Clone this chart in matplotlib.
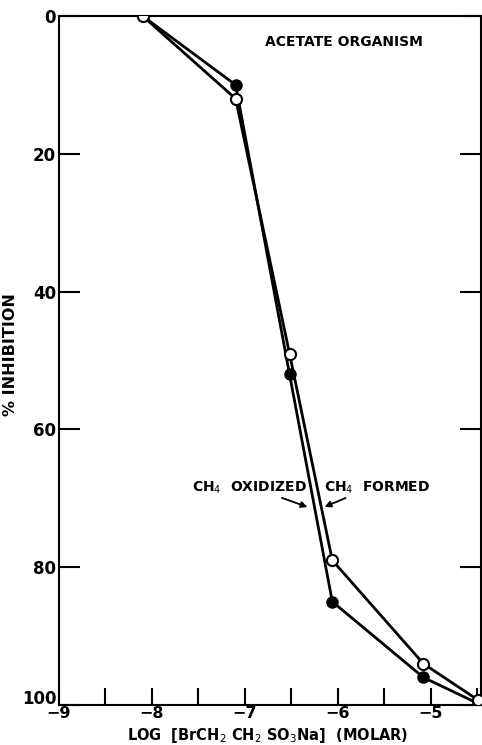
import matplotlib.pyplot as plt
import matplotlib.transforms as mtransforms
from matplotlib.ticker import MultipleLocator

# log molar concentration of BrCH2CH2SO3Na
log_conc = [-8.1, -7.1, -6.52, -6.06, -5.08, -4.49]
# percent inhibition
ch4_oxidized = [0, 10, 52, 85, 96, 99.8]
ch4_formed = [0, 12, 49, 79, 94, 99.3]

x_ticks = [-9, -8, -7, -6, -5]
y_ticks = [0, 20, 40, 60, 80, 100]


def main():
    plt.rcParams['font.family'] = ['DejaVu Sans']
    fig = plt.figure(figsize=(4.82, 7.45), dpi=100)
    ax = fig.add_axes([0.1224, 0.0537, 0.8756, 0.9248])

    ax.plot(log_conc, ch4_oxidized, color='black', lw=2.0,
            marker='o', ms=8, mfc='black', mec='black', zorder=3)
    ax.plot(log_conc, ch4_formed, color='black', lw=2.0,
            marker='o', ms=8, mfc='white', mec='black', mew=1.5, zorder=4)

    ax.set_xlim(-9, -4.46)
    ax.set_ylim(100, 0)

    ax.set_xticks(x_ticks)
    ax.set_xticklabels(['\u22129', '\u22128', '\u22127', '\u22126', '\u22125'])
    ax.xaxis.set_minor_locator(MultipleLocator(0.5))
    ax.set_yticks(y_ticks)
    ax.tick_params(axis='x', which='both', direction='in', length=12, width=1.5,
                   labelsize=11.5, pad=1)
    ax.tick_params(axis='y', which='both', direction='in', length=15, width=1.5,
                   labelsize=12, pad=2, right=True)
    for lbl in ax.get_xticklabels() + ax.get_yticklabels():
        lbl.set_fontweight('bold')
    for sp in ax.spines.values():
        sp.set_linewidth(1.5)

    # lift the "100" label a little so it sits above the -9 label
    lift = mtransforms.ScaledTranslation(0, 6 / 72, fig.dpi_scale_trans)
    last = ax.get_yticklabels()[-1]
    last.set_transform(last.get_transform() + lift)

    ax.set_xlabel(r'LOG  [BrCH$_2$ CH$_2$ SO$_3$Na]  (MOLAR)',
                  fontsize=10.5, fontweight='bold')
    ax.xaxis.set_label_coords(0.495, -0.030)
    ax.set_ylabel('% INHIBITION', fontsize=11.5, fontweight='bold')
    ax.yaxis.set_label_coords(-0.097, 0.508)

    ax.text(-6.78, 3.8, 'ACETATE ORGANISM', fontsize=10, fontweight='bold',
            va='center', ha='left')

    ax.text(-6.33, 68.5, r'CH$_4$  OXIDIZED', fontsize=10, fontweight='bold',
            va='center', ha='right')
    ax.text(-6.15, 68.5, r'CH$_4$  FORMED', fontsize=10, fontweight='bold',
            va='center', ha='left')
    arrow = dict(arrowstyle='-|>', color='black', lw=1.3, mutation_scale=9)
    ax.annotate('', xy=(-6.30, 71.4), xytext=(-6.63, 69.8), arrowprops=arrow)
    ax.annotate('', xy=(-6.17, 71.4), xytext=(-5.89, 69.8), arrowprops=arrow)

    fig.savefig('out.png', dpi=100)


if __name__ == '__main__':
    main()
